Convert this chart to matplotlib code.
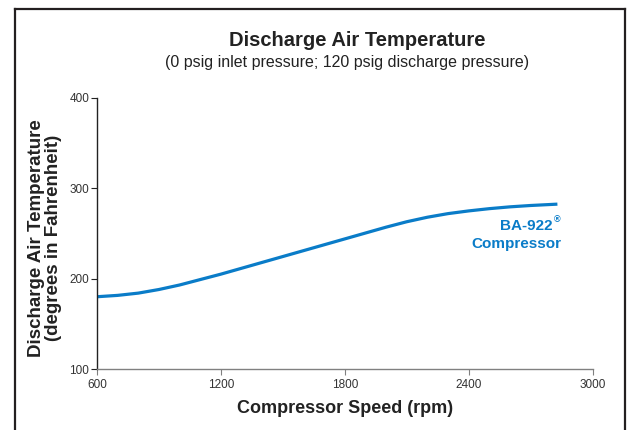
import matplotlib
matplotlib.use("Agg")
import matplotlib.pyplot as plt
from matplotlib.lines import Line2D

plt.rcParams['font.family'] = ['Liberation Sans', 'DejaVu Sans']

# Data
speed_rpm = [600, 700, 800, 900, 1000, 1100, 1200, 1300, 1400, 1500, 1600, 1700,
             1800, 1900, 2000, 2100, 2200, 2300, 2400, 2500, 2600, 2700, 2830]
temp_f = [180, 181.5, 184, 188, 193, 199, 205, 211.5, 218, 224.5, 231, 237.5,
          244, 250.5, 257, 263, 268, 272, 275, 277.5, 279.5, 281, 282.5]
x_ticks = [600, 1200, 1800, 2400, 3000]
y_ticks = [100, 200, 300, 400]

W, H = 631, 430
fig = plt.figure(figsize=(W / 100, H / 100), dpi=100)

def fx(px):
    return px / W

def fy(py):
    return 1 - py / H

ax = fig.add_axes([fx(97), fy(369), fx(592.5) - fx(97), fy(98) - fy(369)])
blue = '#0a7cc8'
ax.plot(speed_rpm, temp_f, color=blue, lw=2.3, solid_capstyle='butt')
ax.set_xlim(600, 3000)
ax.set_ylim(100, 400)
ax.set_xticks(x_ticks)
ax.set_yticks(y_ticks)
ax.tick_params(axis='both', labelsize=8.5, labelcolor='#333333', length=4, width=0.8)
ax.tick_params(axis='x', color='#808080', pad=3)
ax.tick_params(axis='y', color='#222222', pad=1.5)
ax.spines['top'].set_visible(False)
ax.spines['right'].set_visible(False)
ax.spines['bottom'].set_color('#808080')
ax.spines['bottom'].set_linewidth(1.0)
ax.spines['left'].set_color('#222222')
ax.spines['left'].set_linewidth(1.0)

ax.set_xlabel('Compressor Speed (rpm)', fontsize=13, fontweight='bold', color='#222222', labelpad=7)
fig.text(fx(45), fy(238), 'Discharge Air Temperature\n(degrees in Fahrenheit)', rotation=90,
         ha='center', va='center', fontsize=13.5, fontweight='bold', color='#222222',
         linespacing=1.05, multialignment='center')

fig.text(fx(357), fy(40), 'Discharge Air Temperature', ha='center', va='center',
         fontsize=14.5, fontweight='bold', color='#222222')
fig.text(fx(347), fy(63), '(0 psig inlet pressure; 120 psig discharge pressure)', ha='center',
         va='center', fontsize=11.5, color='#222222')

fig.text(fx(553), fy(226), 'BA-922', ha='right', va='center', fontsize=11, fontweight='bold', color=blue)
fig.text(fx(553.5), fy(220), '®', ha='left', va='center', fontsize=6.5, fontweight='bold', color=blue)
fig.text(fx(561), fy(244), 'Compressor', ha='right', va='center', fontsize=11, fontweight='bold', color=blue)

frame_kw = dict(color='#231f20', lw=1.6, transform=fig.transFigure)
fig.add_artist(Line2D([fx(15), fx(15)], [fy(9), 0], **frame_kw))
fig.add_artist(Line2D([fx(15), fx(625)], [fy(9), fy(9)], solid_capstyle='projecting', **frame_kw))
fig.add_artist(Line2D([fx(625), fx(625)], [fy(9), 0], **frame_kw))

fig.savefig('out.png', dpi=100)
